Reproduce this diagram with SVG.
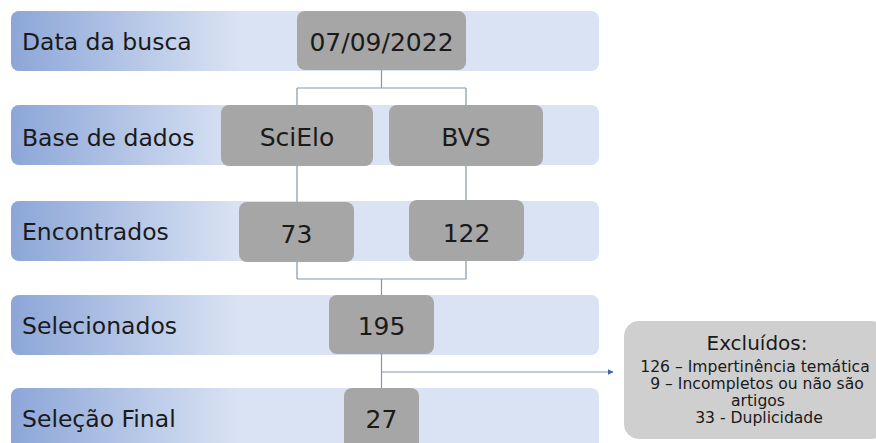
<svg xmlns="http://www.w3.org/2000/svg" width="876" height="443" viewBox="0 0 876 443">
<defs>
<linearGradient id="bandGrad" gradientUnits="userSpaceOnUse" x1="11" y1="0" x2="240" y2="0">
<stop offset="0" stop-color="#8CA6D8"/>
<stop offset="1" stop-color="#DAE3F3"/>
</linearGradient>
<marker id="arr" viewBox="0 0 10 10" refX="9" refY="5" markerWidth="6" markerHeight="6" markerUnits="userSpaceOnUse" orient="auto">
<path d="M0,0 L10,5 L0,10 z" fill="#3F64A8"/>
</marker>
<style>
.band{fill:url(#bandGrad);}
.box{fill:#A6A6A6;}
.lbl{font-family:"DejaVu Sans","Liberation Sans",sans-serif;font-size:23.5px;fill:#1A1A1A;}
.val{font-family:"DejaVu Sans","Liberation Sans",sans-serif;font-size:25px;fill:#1A1A1A;text-anchor:middle;}
.conn{fill:none;stroke:#8497B0;stroke-width:1.2;}
.exc{font-family:"DejaVu Sans","Liberation Sans",sans-serif;font-size:15.6px;fill:#1A1A1A;text-anchor:middle;}
.exh{font-family:"DejaVu Sans","Liberation Sans",sans-serif;font-size:20px;fill:#1A1A1A;text-anchor:middle;}
</style>
</defs>
<rect width="876" height="443" fill="#FFFFFF"/>

<g id="bands">
<g id="band1"><rect class="band" x="11" y="11" width="588" height="60" rx="8"/><text class="lbl" x="22" y="50">Data da busca</text></g>
<g id="band2"><rect class="band" x="11" y="105" width="588" height="60" rx="8"/><text class="lbl" x="22" y="146">Base de dados</text></g>
<g id="band3"><rect class="band" x="11" y="201" width="588" height="60" rx="8"/><text class="lbl" x="22" y="240">Encontrados</text></g>
<g id="band4"><rect class="band" x="11" y="295" width="588" height="60" rx="8"/><text class="lbl" x="22" y="334">Selecionados</text></g>
<g id="band5"><rect class="band" x="11" y="388" width="588" height="62" rx="8"/><text class="lbl" x="22" y="427">Seleção Final</text></g>
</g>

<g id="connectors">
<path class="conn" d="M381.5,70 V88 M297,88 H466 M297,88 V202 M466,88 V200"/>
<path class="conn" d="M297,262 V279 M466,261 V279 M297,279 H466 M381.5,279 V295"/>
<path class="conn" d="M381.5,354 V388"/>
<path class="conn" d="M381.5,372 H613" marker-end="url(#arr)"/>
</g>

<g id="date"><rect class="box" x="297" y="11" width="169" height="59" rx="8"/><text class="val" x="381.5" y="51">07/09/2022</text></g>
<g id="scielo"><rect class="box" x="221" y="105" width="152" height="61" rx="8"/><text class="val" x="297" y="146">SciElo</text></g>
<g id="bvs"><rect class="box" x="389" y="105" width="154" height="61" rx="8"/><text class="val" x="466" y="146">BVS</text></g>
<g id="n73"><rect class="box" x="239" y="202" width="115" height="60" rx="8"/><text class="val" x="296.5" y="243">73</text></g>
<g id="n122"><rect class="box" x="409" y="200" width="115" height="61" rx="8"/><text class="val" x="466.5" y="242">122</text></g>
<g id="n195"><rect class="box" x="329" y="295" width="105" height="59" rx="8"/><text class="val" x="381.5" y="335">195</text></g>
<g id="n27"><rect class="box" x="344" y="388" width="75" height="62" rx="8"/><text class="val" x="381.5" y="428">27</text></g>

<g id="excluidos">
<rect x="624" y="321" width="262" height="118" rx="15" fill="#CFCFCF"/>
<text class="exh" x="757" y="350">Excluídos:</text>
<text class="exc" x="755" y="372">126 – Impertinência temática</text>
<text class="exc" x="757" y="389">9 – Incompletos ou não são</text>
<text class="exc" x="758" y="406">artigos</text>
<text class="exc" x="759" y="423">33 - Duplicidade</text>
</g>
</svg>
